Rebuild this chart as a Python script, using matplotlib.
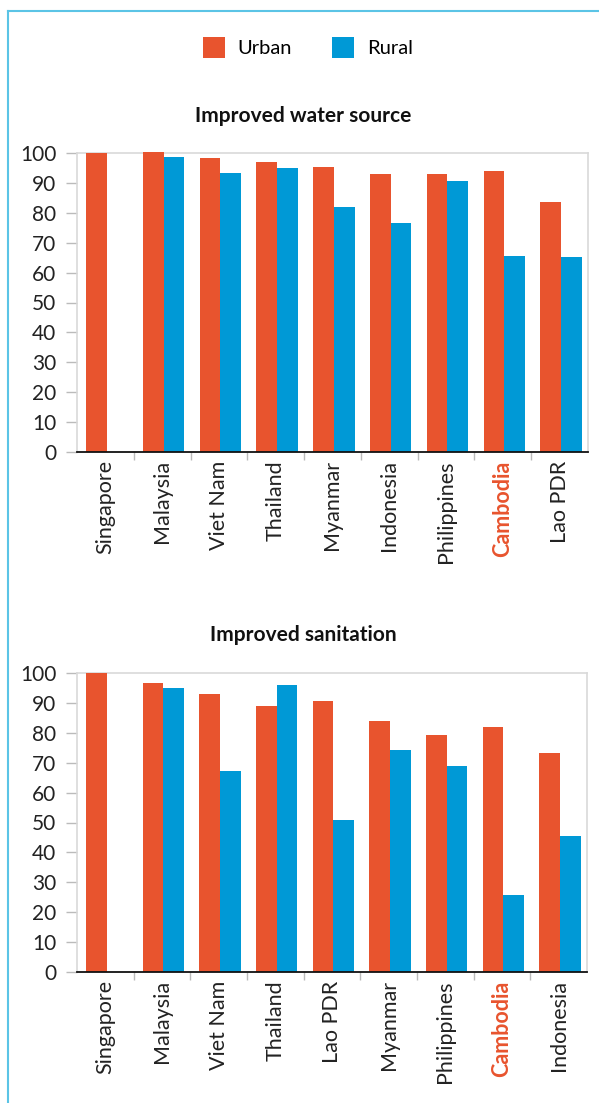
import matplotlib
matplotlib.use("Agg")
import matplotlib.pyplot as plt
from matplotlib.patches import Patch
from matplotlib.lines import Line2D
import numpy as np

plt.rcParams['font.family'] = ['Lato', 'DejaVu Sans']

URBAN_C = '#E8542E'
RURAL_C = '#0099D6'
FRAME_C = '#5BC4E6'
GRID_C = '#D9D9D9'

water_countries = ['Singapore', 'Malaysia', 'Viet Nam', 'Thailand', 'Myanmar',
                   'Indonesia', 'Philippines', 'Cambodia', 'Lao PDR']
water_urban = [100, 100.4, 98.4, 97.1, 95.4, 93.1, 93.1, 94.1, 83.7]
water_rural = [np.nan, 98.8, 93.4, 95.1, 82.1, 76.7, 90.7, 65.7, 65.3]

san_countries = ['Singapore', 'Malaysia', 'Viet Nam', 'Thailand', 'Lao PDR',
                 'Myanmar', 'Philippines', 'Cambodia', 'Indonesia']
san_urban = [100, 96.8, 93.1, 89.1, 90.7, 84.1, 79.4, 82.1, 73.4]
san_rural = [np.nan, 95.1, 67.3, 96.1, 50.9, 74.4, 69.0, 25.9, 45.6]

yticks = [0, 10, 20, 30, 40, 50, 60, 70, 80, 90, 100]
highlight = 'Cambodia'

W, H = 599, 1103
fig = plt.figure(figsize=(W / 100, H / 100), dpi=100)


def px_axes(left, top, right, bottom):
    return fig.add_axes([left / W, 1 - bottom / H, (right - left) / W, (bottom - top) / H])


def draw(ax, countries, urban, rural, title, title_y):
    x = np.arange(len(countries))
    bw = 0.365
    ax.bar(x - 0.34, urban, width=bw, align='edge', color=URBAN_C, clip_on=False, zorder=3)
    ax.bar(x + 0.025, rural, width=bw, align='edge', color=RURAL_C, clip_on=False, zorder=3)
    ax.set_xlim(-0.5, len(countries) - 0.5)
    ax.set_ylim(0, 100)
    ax.set_yticks(yticks)
    ax.set_yticklabels([str(v) for v in yticks], fontsize=15, color='#222222')
    ax.tick_params(axis='y', length=8, width=1, color='#BBBBBB', pad=7)
    ax.set_xticks(x)
    ax.set_xticklabels(countries, rotation=90, fontsize=15.5, color='#222222')
    ax.tick_params(axis='x', which='major', length=0, pad=6)
    ax.set_xticks(np.arange(0.5, len(countries) - 0.5, 1), minor=True)
    ax.tick_params(axis='x', which='minor', length=6, width=1, color='#BBBBBB')
    for lbl in ax.get_xticklabels():
        if lbl.get_text() == highlight:
            lbl.set_color(URBAN_C)
            lbl.set_fontweight('bold')
    for s in ['left', 'top', 'right']:
        ax.spines[s].set_color(GRID_C)
        ax.spines[s].set_linewidth(1.2)
    ax.spines['bottom'].set_color('#111111')
    ax.spines['bottom'].set_linewidth(1.3)
    ax.spines['bottom'].set_zorder(4)
    fig.text(303.5 / W, 1 - title_y / H, title, fontsize=15, fontweight='bold',
             color='#111111', ha='center', va='center')


ax1 = px_axes(77, 153, 588, 452)
draw(ax1, water_countries, water_urban, water_rural, 'Improved water source', 116)
ax2 = px_axes(77, 673, 587, 972)
draw(ax2, san_countries, san_urban, san_rural, 'Improved sanitation', 635)

handles = [Patch(facecolor=URBAN_C, edgecolor='none'), Patch(facecolor=RURAL_C, edgecolor='none')]
fig.legend(handles, ['Urban', 'Rural'], loc='center', bbox_to_anchor=(308 / W, 1 - 47.5 / H),
           ncol=2, frameon=False, fontsize=14.5, handlelength=1.08, handleheight=1.29,
           handletextpad=0.64, columnspacing=2.0)

# frame lines (left and top)
fig.add_artist(Line2D([8 / W, 8 / W], [0, 1 - 11 / H], transform=fig.transFigure,
                      color=FRAME_C, linewidth=1.5))
fig.add_artist(Line2D([8 / W, 1], [1 - 11 / H, 1 - 11 / H], transform=fig.transFigure,
                      color=FRAME_C, linewidth=1.5))

fig.savefig('out.png', dpi=100)
